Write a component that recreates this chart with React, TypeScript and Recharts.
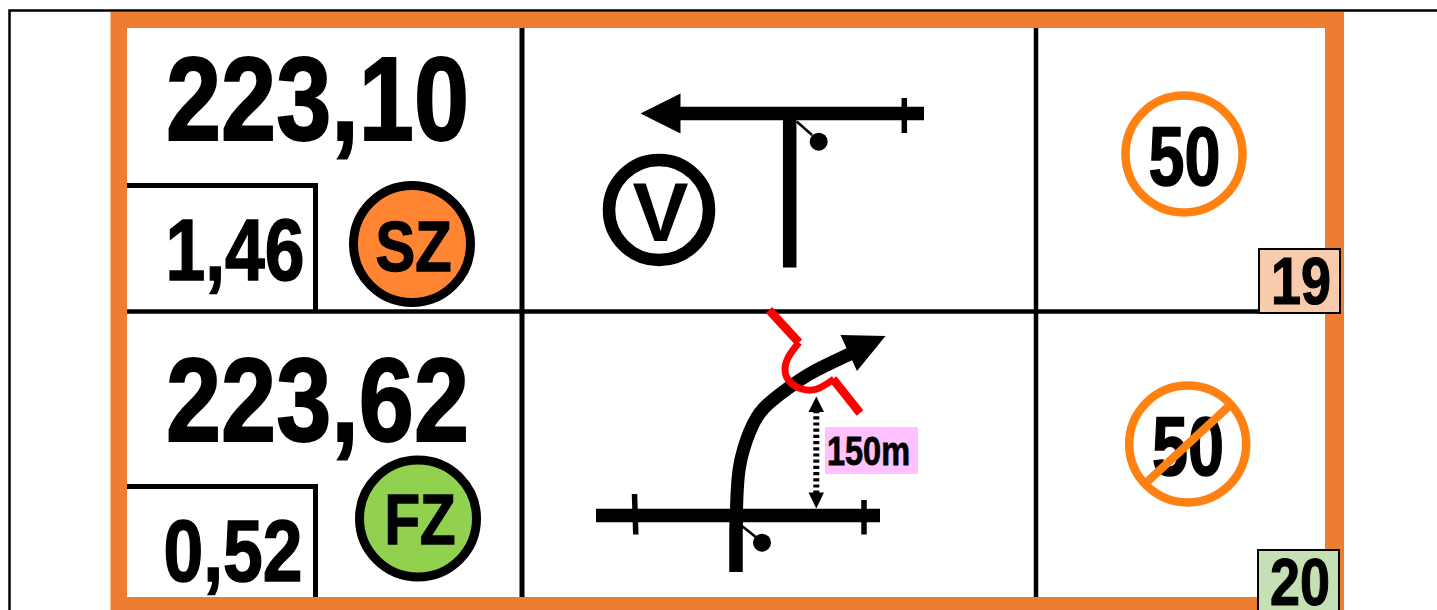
import { Scatter, ScatterChart, XAxis, YAxis } from 'recharts'

type Pt = { x: number; y: number }

const WIDTH = 1437
const HEIGHT = 610
const ORANGE = '#ED7D31'
const FONT = '"Liberation Sans", Arial, sans-serif'

const toPts = (xs: number[], ys: number[]): Pt[] => xs.map((x, i) => ({ x, y: ys[i] }))

// page + frame
const pageBorderX = [9.5, 9.5, 1437]
const pageBorderY = [610, 10.5, 10.5]
const frameX = [110.5, 1344, 1344, 110.5]
const frameY = [12, 12, 610, 610]
const panelX = [127, 1325, 1325, 127]
const panelY = [28, 28, 597, 597]

// grid lines
const rowLineX = [127, 1325]
const rowLineY = [311.5, 311.5]
const colLine1X = [522, 522]
const colLine2X = [1036, 1036]
const colLineY = [28, 597]

// kilometre boxes
const box1X = [127, 315.5, 315.5]
const box1Y = [185.5, 185.5, 311]
const box2X = [127, 315.5, 315.5]
const box2Y = [486.5, 486.5, 597]

// upper track
const topTrackX = [680, 924]
const topTrackY = [113.5, 113.5]
const topHeadX = [640.5, 680.5, 680.5]
const topHeadY = [113.5, 93.5, 133.5]
const topTickX = [904.3, 904.3]
const topTickY = [98, 133]
const topBranchX = [789.7, 789.7]
const topBranchY = [113, 267.5]
const topSignalX = [796.7, 812]
const topSignalY = [121.5, 135]

// lower track
const lowTrackX = [596, 880]
const lowTrackY = [515.5, 515.5]
const lowTick1X = [634.5, 635.8]
const lowTick1Y = [494, 534.5]
const lowTick2X = [864, 864]
const lowTick2Y = [500, 534.5]
const lowStemX = [736, 736, 736.5]
const lowStemY = [572, 530, 510]
const lowCurveX = [736.5, 739.5, 750, 764, 787, 813, 852]
const lowCurveY = [510, 467, 431, 408, 389, 372, 353]
const lowHeadX = [885.5, 840.5, 857]
const lowHeadY = [336, 335, 371]
const lowSignalX = [742, 757]
const lowSignalY = [526, 538]

// red border symbol
const redTopX = [769, 799]
const redTopY = [310, 342.5]
const redArcX = [799, 789, 785, 790, 802, 817, 834]
const redArcY = [342.5, 356, 370, 382, 389, 389, 379]
const redLowX = [833, 860]
const redLowY = [379, 413]

// 150m distance
const distLineX = [816.3, 816.3]
const distLineY = [410, 494]
const distUpX = [816.3, 808.5, 824]
const distUpY = [396.5, 412, 412]
const distDownX = [816.3, 808.5, 824]
const distDownY = [508.5, 492.5, 492.5]
const distBoxX = [825, 918, 918, 825]
const distBoxY = [427, 427, 474, 474]

// section number boxes
const no19X = [1259, 1340, 1340, 1259]
const no19Y = [249, 249, 313, 313]
const no20X = [1258, 1339, 1339, 1258]
const no20Y = [550, 550, 612, 612]

// no-limit slash
const slashX = [1147.5, 1228.5]
const slashY = [481.5, 406.5]

// dots and rings
const signalDots = toPts([818.7, 762], [141.7, 542.7])
const vRing = toPts([659], [210])
const szDisc = toPts([412], [244])
const fzDisc = toPts([418], [518.5])
const limitRings = toPts([1184, 1187.7], [154, 444])

// labels
const kmLabels = ['223,10', '223,62']
const kmCenterX = [317.5, 317.5]
const kmBaseY = [140, 441]
const subLabels = ['1,46', '0,52']
const subCenterX = [235, 233]
const subBaseY = [280, 580.5]
const limitLabels = ['50', '50']
const limitCenterX = [1184.5, 1188]
const limitBaseY = [185, 475]
const noLabels = ['19', '20']
const noCenterX = [1301, 1300]
const noBaseY = [304, 605]

const noMarker = () => <g />

// plain stroked polyline through the chart scales
function stroke(key: string, xs: number[], ys: number[], color: string, width: number, extra: object = {}) {
  return (
    <Scatter
      key={key}
      data={toPts(xs, ys)}
      isAnimationActive={false}
      shape={noMarker}
      line={{ stroke: color, strokeWidth: width, fill: 'none', ...extra }}
    />
  )
}

function curve(key: string, xs: number[], ys: number[], color: string, width: number) {
  return (
    <Scatter
      key={key}
      data={toPts(xs, ys)}
      isAnimationActive={false}
      shape={noMarker}
      lineJointType="natural"
      line={{ stroke: color, strokeWidth: width, fill: 'none' }}
    />
  )
}

function poly(key: string, xs: number[], ys: number[], fill: string, border = 'none', borderWidth = 0) {
  return (
    <Scatter
      key={key}
      data={toPts(xs, ys)}
      isAnimationActive={false}
      shape={noMarker}
      line={(p: { points?: Pt[] }) => (
        <polygon
          points={(p.points ?? []).map((q) => `${q.x},${q.y}`).join(' ')}
          fill={fill}
          stroke={border}
          strokeWidth={borderWidth}
        />
      )}
    />
  )
}

function discs(key: string, pts: Pt[], r: number, fill: string, color = 'none', width = 0) {
  return (
    <Scatter
      key={key}
      data={pts}
      isAnimationActive={false}
      shape={(p: { cx?: number; cy?: number }) => (
        <circle cx={p.cx} cy={p.cy} r={r} fill={fill} stroke={color} strokeWidth={width} />
      )}
    />
  )
}

// squeezed bold text, with a thin outline to get the weight of the original
function labels(key: string, text: string[], xs: number[], ys: number[], size: number, length?: number, heavy = 0) {
  const data = text.map((label, i) => ({ x: xs[i], y: ys[i], label }))
  return (
    <Scatter
      key={key}
      data={data}
      isAnimationActive={false}
      shape={(p: { cx?: number; cy?: number; payload?: { label: string } }) => (
        <text
          x={p.cx}
          y={p.cy}
          textAnchor="middle"
          fontFamily={FONT}
          fontWeight={700}
          fontSize={size}
          fill="#000"
          stroke="#000"
          strokeWidth={heavy}
          textLength={length}
          lengthAdjust={length ? 'spacingAndGlyphs' : undefined}
        >
          {p.payload?.label}
        </text>
      )}
    />
  )
}

export default function App() {
  return (
    <div style={{ position: 'absolute', left: 0, top: 0, width: WIDTH, height: HEIGHT, background: '#fff' }}>
      <ScatterChart width={WIDTH} height={HEIGHT} margin={{ top: 0, right: 0, bottom: 0, left: 0 }}>
        <XAxis type="number" dataKey="x" domain={[0, WIDTH]} hide allowDataOverflow />
        <YAxis type="number" dataKey="y" domain={[0, HEIGHT]} reversed hide allowDataOverflow />

        {stroke('page', pageBorderX, pageBorderY, '#000', 2.5)}
        {poly('frame', frameX, frameY, ORANGE)}
        {poly('panel', panelX, panelY, '#fff')}

        {stroke('row', rowLineX, rowLineY, '#000', 4.5)}
        {stroke('col1', colLine1X, colLineY, '#000', 5)}
        {stroke('col2', colLine2X, colLineY, '#000', 4.5)}
        {stroke('box1', box1X, box1Y, '#000', 5)}
        {stroke('box2', box2X, box2Y, '#000', 5)}

        {labels('km', kmLabels, kmCenterX, kmBaseY, 119, 303, 2)}
        {labels('sub', subLabels, subCenterX, subBaseY, 87, 139, 1.5)}

        {discs('sz', szDisc, 58.5, '#FF8533', '#000', 9)}
        {discs('fz', fzDisc, 58.5, '#92D050', '#000', 9)}
        {labels('zoneS', ['SZ'], [413.5], [270.5], 71, 76, 1.5)}
        {labels('zoneF', ['FZ'], [420], [544], 71, 71, 1.5)}

        {stroke('topTrack', topTrackX, topTrackY, '#000', 13.5)}
        {poly('topHead', topHeadX, topHeadY, '#000')}
        {stroke('topTick', topTickX, topTickY, '#000', 5.5)}
        {stroke('topBranch', topBranchX, topBranchY, '#000', 13.5)}
        {stroke('topSignal', topSignalX, topSignalY, '#000', 2.5)}
        {discs('signals', signalDots, 9, '#000')}
        {discs('v', vRing, 50, '#fff', '#000', 12.5)}
        {labels('vText', ['V'], [660.5], [241], 84)}

        {stroke('lowSignal', lowSignalX, lowSignalY, '#000', 2.5)}
        {stroke('lowTrack', lowTrackX, lowTrackY, '#000', 13.5)}
        {stroke('lowTick1', lowTick1X, lowTick1Y, '#000', 5.5)}
        {stroke('lowTick2', lowTick2X, lowTick2Y, '#000', 5.5)}
        {stroke('lowStem', lowStemX, lowStemY, '#000', 13.5)}
        {curve('lowCurve', lowCurveX, lowCurveY, '#000', 13)}
        {poly('lowHead', lowHeadX, lowHeadY, '#000')}

        {stroke('redTop', redTopX, redTopY, '#FF0000', 8.5)}
        {curve('redArc', redArcX, redArcY, '#FF0000', 7)}
        {stroke('redLow', redLowX, redLowY, '#FF0000', 8.5)}

        {stroke('dist', distLineX, distLineY, '#000', 6, { strokeDasharray: '3.2 3' })}
        {poly('distUp', distUpX, distUpY, '#000')}
        {poly('distDown', distDownX, distDownY, '#000')}
        {poly('distBox', distBoxX, distBoxY, '#FFC1FF')}
        {labels('dist150', ['150m'], [868.5], [465], 40, 83, 0.8)}

        {discs('limits', limitRings, 58.5, '#fff', '#FF8112', 8.5)}
        {labels('limit', limitLabels, limitCenterX, limitBaseY, 84, 72, 1.5)}
        {stroke('slash', slashX, slashY, '#FF8112', 8.5)}

        {poly('no19', no19X, no19Y, '#F8CBAD', '#000', 2)}
        {poly('no20', no20X, no20Y, '#C5E0B4', '#000', 2)}
        {labels('no', noLabels, noCenterX, noBaseY, 67, 60, 1.2)}
      </ScatterChart>
    </div>
  )
}
